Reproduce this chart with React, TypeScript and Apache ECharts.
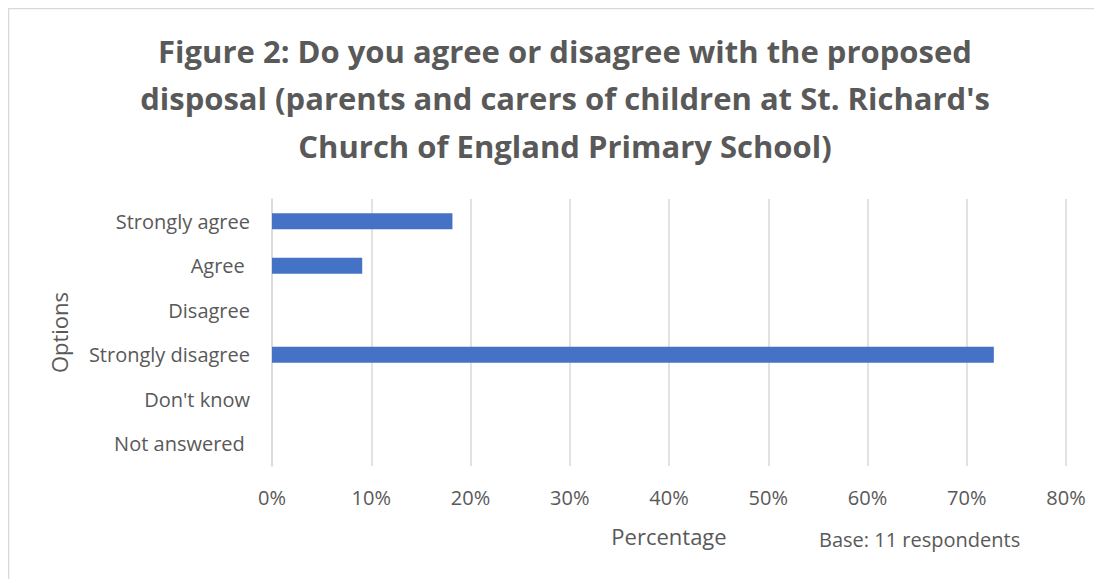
import React, { useEffect, useRef } from "react";
import * as echarts from "echarts";

const categories = ["Strongly agree", "Agree ", "Disagree", "Strongly disagree", "Don't know", "Not answered "];
const percentages = [18.18, 9.09, 0, 72.73, 0, 0];
const xTicks = [0, 10, 20, 30, 40, 50, 60, 70, 80];
const titleText = "Figure 2: Do you agree or disagree with the proposed\ndisposal (parents and carers of children at St. Richard's\nChurch of England Primary School)";
const baseNote = "Base: 11 respondents";

export default function App() {
  const ref = useRef<HTMLDivElement>(null);
  useEffect(() => {
    if (!ref.current) return;
    const chart = echarts.init(ref.current, undefined, { renderer: "svg" });
    const font = "'Open Sans', sans-serif";
    chart.setOption({
      animation: false,
      backgroundColor: "#ffffff",
      textStyle: { fontFamily: font },
      title: {
        text: titleText,
        left: 552,
        top: 14,
        textAlign: "center",
        textStyle: { fontFamily: font, fontSize: 31, fontWeight: "bold", color: "#595959", lineHeight: 47.5 },
      },
      grid: { left: 264, right: 36, top: 191, bottom: 113 },
      xAxis: {
        type: "value",
        min: 0,
        max: xTicks[xTicks.length - 1],
        interval: 10,
        name: "Percentage",
        nameLocation: "middle",
        nameGap: 59,
        nameTextStyle: { fontFamily: font, fontSize: 22, color: "#595959" },
        axisLabel: { formatter: "{value}%", fontSize: 20, color: "#595959", margin: 21, fontFamily: font },
        axisLine: { show: false },
        axisTick: { show: false },
        splitLine: { lineStyle: { color: "#d9d9d9", width: 1.5 } },
      },
      yAxis: {
        type: "category",
        data: categories,
        inverse: true,
        name: "Options",
        nameLocation: "middle",
        nameGap: 202,
        nameRotate: 90,
        nameTextStyle: { fontFamily: font, fontSize: 22, color: "#595959" },
        axisLabel: { fontSize: 20, color: "#595959", margin: 22, fontFamily: font },
        axisLine: { show: true, lineStyle: { color: "#d9d9d9", width: 1.5 } },
        axisTick: { show: false },
      },
      series: [
        {
          type: "bar",
          data: percentages,
          barWidth: 16,
          itemStyle: { color: "#4472c4" },
        },
      ],
      graphic: [
        {
          type: "rect",
          shape: { x: 0.5, y: 0.5, width: 1120, height: 600 },
          style: { fill: "none", stroke: "#d9d9d9", lineWidth: 1.5 },
          silent: true,
        },
        {
          type: "text",
          left: 811,
          top: 521,
          style: { text: baseNote, fontFamily: font, fontSize: 20, fill: "#595959" },
        },
      ],
    });
    return () => chart.dispose();
  }, []);
  return <div ref={ref} style={{ width: 1094, height: 571 }} />;
}
